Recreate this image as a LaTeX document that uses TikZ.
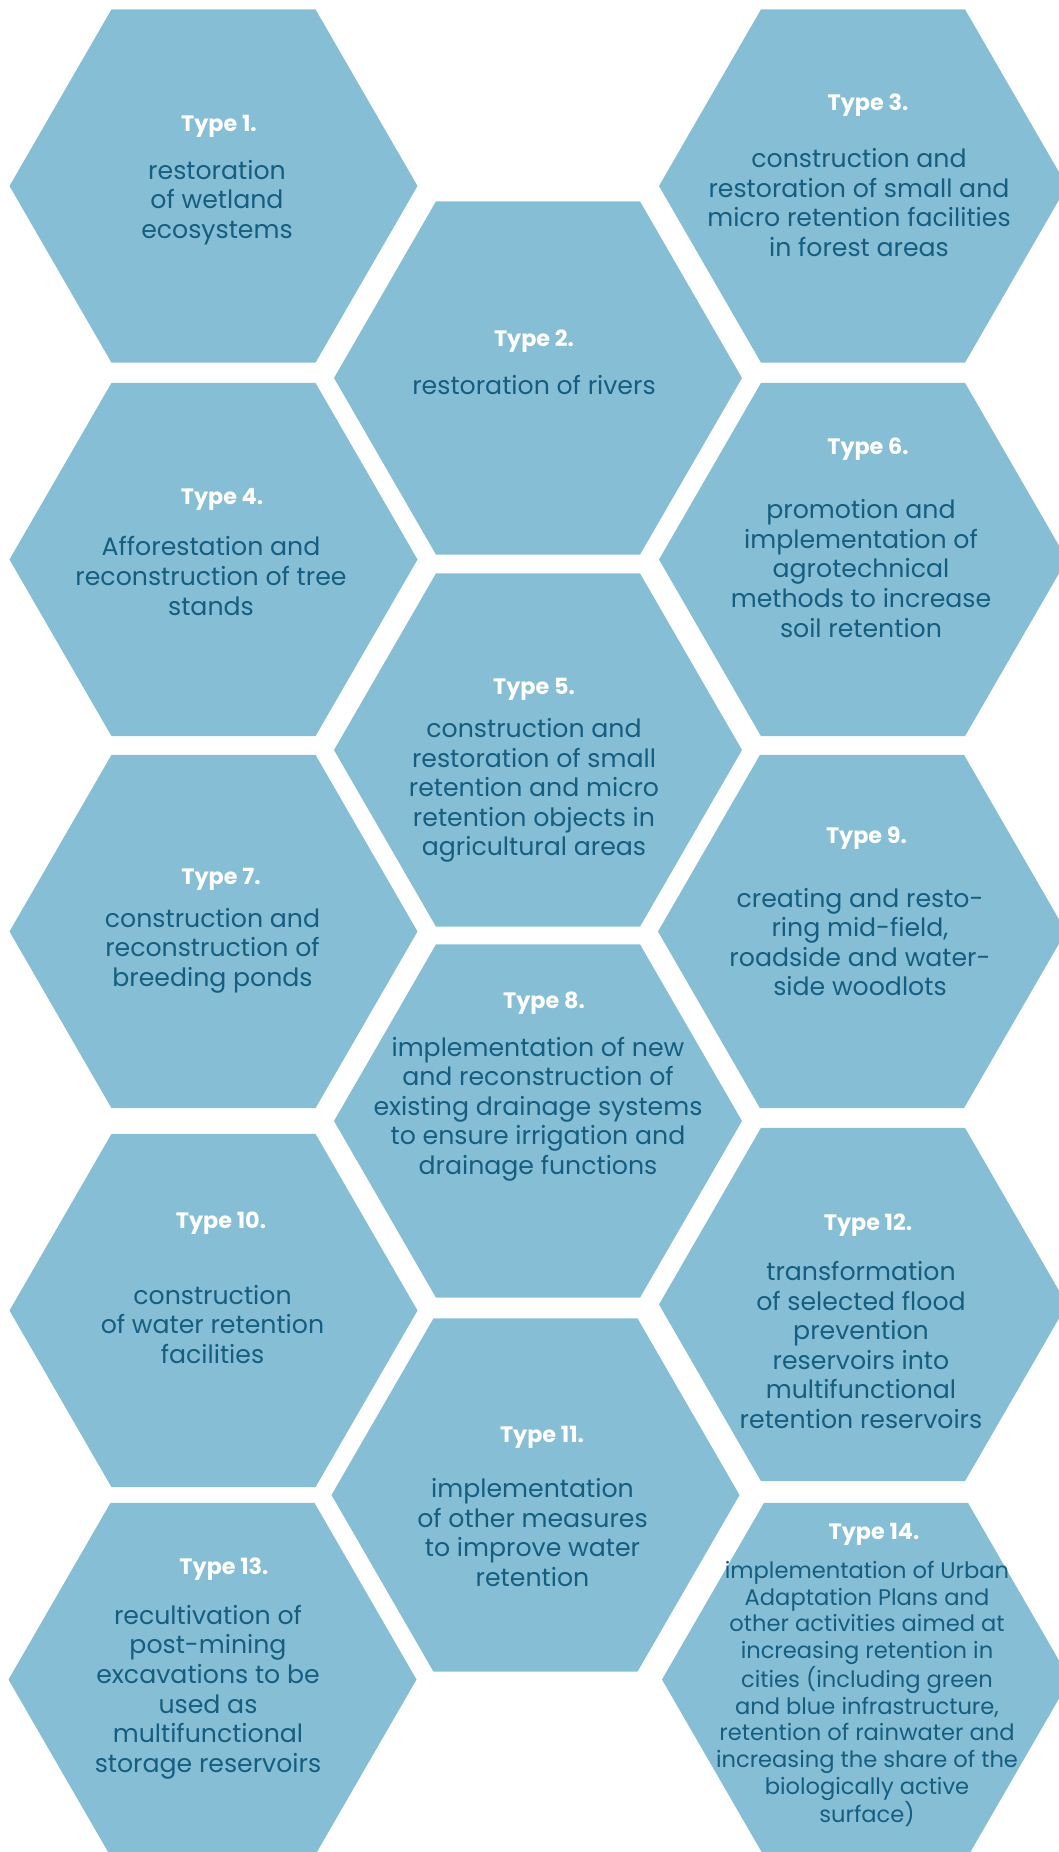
\documentclass[tikz,border=0pt]{standalone}
\usepackage{fontspec}
\setmainfont{Poppins}
\usetikzlibrary{positioning}
\definecolor{hexblue}{RGB}{134,190,213}
\definecolor{inkblue}{RGB}{22,94,128}
\newcommand{\hexcell}[2]{\fill[hexblue] (#1-204,#2) -- ++(60:204) -- ++(0:204) -- ++(-60:204) -- ++(-120:204) -- ++(180:204) -- cycle;}
\begin{document}
\begin{tikzpicture}[x=1pt, y=-1pt,
    title/.style={text=white, font=\fontsize{22.3}{26}\bfseries\selectfont, inner sep=0pt},
    body/.style={text=inkblue, align=center, font=\fontsize{25.2}{29.6}\selectfont, inner sep=0pt},
    smallbody/.style={body, font=\fontsize{22.6}{26.9}\selectfont}]
      \clip (0,0) rectangle (1059,1852);
      %
      \hexcell{213.5}{186}     % left column
      \hexcell{213.5}{559.5}
      \hexcell{213.5}{931.5}
      \hexcell{213.5}{1310.5}
      \hexcell{212.5}{1679.5}
      %
      \hexcell{538}{378}       % middle column
      \hexcell{538}{750}
      \hexcell{538}{1121}
      \hexcell{535.5}{1495}
      %
      \hexcell{863}{186}       % right column
      \hexcell{863}{559.5}
      \hexcell{862}{931.5}
      \hexcell{863}{1304.5}
      \hexcell{866}{1679.5}
      %
      \node[title] (t1) at (219,126.5) {Type 1.};
      \node[body] (b1) at (217,202.5) {restoration\\of wetland\\ecosystems};
      %
      \node[title] (t2) at (534,341.5) {Type 2.};
      \node[body] (b2) at (534,385) {restoration of rivers};
      %
      \node[title] (t3) at (868,105) {Type 3.};
      \node[body] (b3) at (859,202.5) {construction and\\restoration of small and\\micro retention facilities\\in forest areas};
      %
      \node[title] (t4) at (222,499.5) {Type 4.};
      \node[body] (b4) at (211,576) {Afforestation and\\reconstruction of tree\\stands};
      %
      \node[title] (t5) at (534,689.5) {Type 5.};
      \node[body] (b5) at (534,790.5) {construction and\\restoration of small\\retention and micro\\retention objects in\\agricultural areas};
      %
      \node[title] (t6) at (868,449.5) {Type 6.};
      \node[body] (b6) at (861,568.5) {promotion and\\implementation of\\agrotechnical\\methods to increase\\soil retention};
      %
      \node[title] (t7) at (221,879.5) {Type 7.};
      \node[body] (b7) at (212.5,950.5) {construction and\\reconstruction of\\breeding ponds};
      %
      \node[title] (t8) at (544,1003.5) {Type 8.};
      \node[body] (b8) at (538,1109) {implementation of new\\and reconstruction of\\existing drainage systems\\to ensure irrigation and\\drainage functions};
      %
      \node[title] (t9) at (866.5,838.5) {Type 9.};
      \node[body] (b9) at (860,942) {creating and resto-\\ring mid-field,\\roadside and water-\\side woodlots};
      %
      \node[title] (t10) at (221,1223) {Type 10.};
      \node[body] (b10) at (212.5,1324.5) {construction\\of water retention\\facilities};
      %
      \node[title] (t11) at (542,1437.5) {Type 11.};
      \node[body] (b11) at (532.5,1532.5) {implementation\\of other measures\\to improve water\\retention};
      %
      \node[title] (t12) at (868,1225.5) {Type 12.};
      \node[body] (b12) at (861,1345) {transformation\\of selected flood\\prevention\\reservoirs into\\multifunctional\\retention reservoirs};
      %
      \node[title] (t13) at (224,1569) {Type 13.};
      \node[body] (b13) at (208,1692) {recultivation of\\post-mining\\excavations to be\\used as\\multifunctional\\storage reservoirs};
      %
      \node[title] (t14) at (874,1534) {Type 14.};
      \node[smallbody] (b14) at (867,1694) {implementation of Urban\\Adaptation Plans and\\other activities aimed at\\increasing retention in\\cities (including green\\and blue infrastructure,\\retention of rainwater and\\increasing the share of the\\biologically active\\surface)};
      %
    \end{tikzpicture}
\end{document}
